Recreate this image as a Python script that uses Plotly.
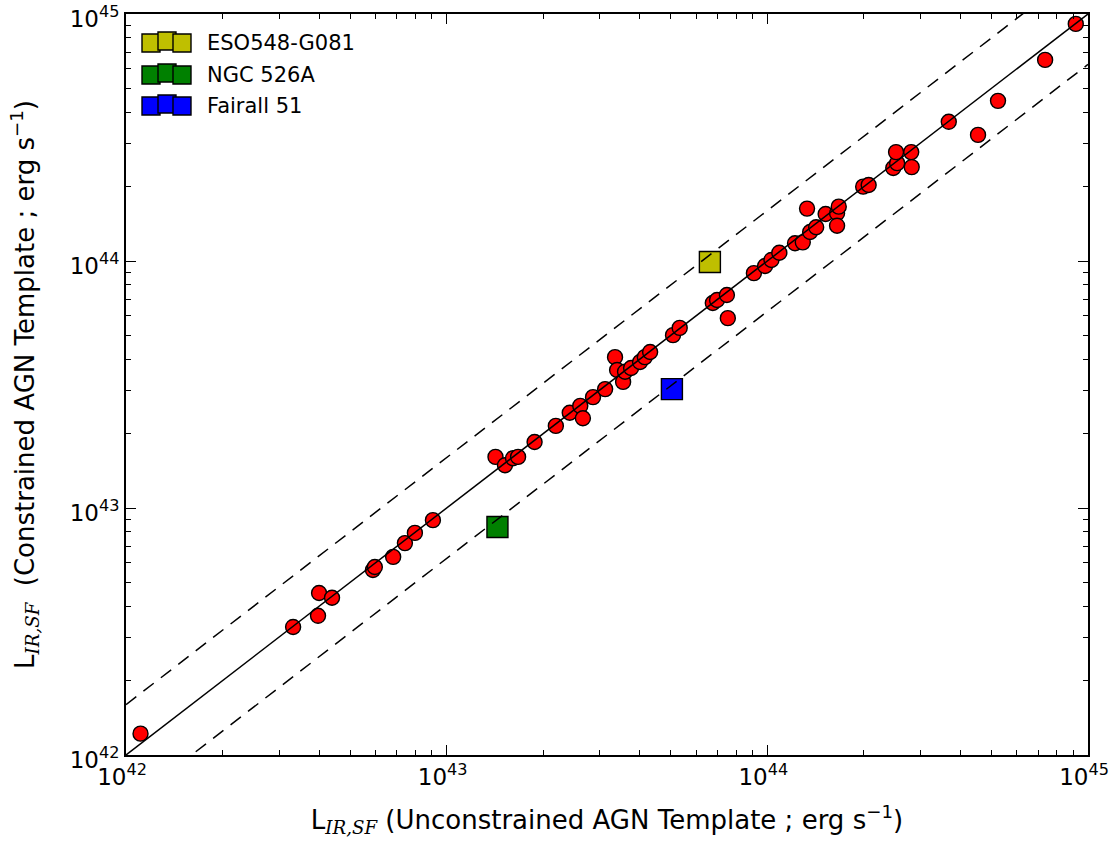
import plotly.graph_objects as go

# ---- data (erg s^-1) ----
unconstrained = [
    1.11e42, 3.32e42, 3.97e42, 4.00e42, 4.39e42, 5.89e42, 5.97e42, 6.81e42, 7.41e42, 7.96e42,
    9.06e42, 1.42e43, 1.52e43, 1.61e43, 1.67e43, 1.88e43, 2.19e43, 2.42e43, 2.61e43, 2.66e43,
    2.86e43, 3.12e43, 3.35e43, 3.40e43, 3.55e43, 3.60e43, 3.76e43, 4.01e43, 4.15e43, 4.31e43,
    5.08e43, 5.33e43, 6.76e43, 6.97e43, 7.48e43, 7.53e43, 9.08e43, 9.84e43, 1.03e44, 1.09e44,
    1.22e44, 1.29e44, 1.33e44, 1.36e44, 1.42e44, 1.52e44, 1.65e44, 1.67e44, 1.65e44, 1.99e44,
    2.07e44, 2.47e44, 2.54e44, 2.52e44, 2.81e44, 2.82e44, 3.68e44, 4.54e44, 5.24e44, 7.35e44,
    9.16e44,
]
constrained = [
    1.22e42, 3.30e42, 3.66e42, 4.53e42, 4.33e42, 5.61e42, 5.77e42, 6.34e42, 7.21e42, 7.93e42,
    8.93e42, 1.61e43, 1.49e43, 1.59e43, 1.61e43, 1.85e43, 2.15e43, 2.43e43, 2.59e43, 2.31e43,
    2.81e43, 3.03e43, 4.08e43, 3.62e43, 3.24e43, 3.56e43, 3.69e43, 3.90e43, 4.08e43, 4.28e43,
    5.01e43, 5.36e43, 6.76e43, 6.95e43, 7.28e43, 5.87e43, 8.93e43, 9.55e43, 1.01e44, 1.08e44,
    1.18e44, 1.19e44, 1.63e44, 1.31e44, 1.37e44, 1.55e44, 1.56e44, 1.66e44, 1.39e44, 2.00e44,
    2.03e44, 2.38e44, 2.49e44, 2.76e44, 2.76e44, 2.40e44, 3.66e44, 3.24e44, 4.45e44, 6.52e44,
    9.12e44,
]

special_names = ["ESO548-G081", "NGC 526A", "Fairall 51"]
special_x = [6.62e43, 1.44e43, 5.04e43]
special_y = [9.91e43, 8.38e42, 3.03e43]
special_colors = ["#BFBF00", "#008000", "#0000FF"]

line_x = [1e42, 1e45]
offset_factor = 1.6

major_ticks = [1e42, 1e43, 1e44, 1e45]
major_labels = ["10<sup>42</sup>", "10<sup>43</sup>", "10<sup>44</sup>", "10<sup>45</sup>"]
minor_ticks = [m * d for d in (1e42, 1e43, 1e44) for m in range(2, 10)]

FONT = "DejaVu Sans"
SUBFONT = "'DejaVu Serif'"

fig = go.Figure()

fig.add_trace(go.Scatter(
    x=unconstrained, y=constrained, mode="markers",
    marker=dict(symbol="circle", size=15, color="#FF0000",
                line=dict(color="black", width=1.4)),
    showlegend=False, hoverinfo="skip"))

for name, xv, yv, c in zip(special_names, special_x, special_y, special_colors):
    fig.add_trace(go.Scatter(
        x=[xv], y=[yv], mode="markers", name=name,
        marker=dict(symbol="square", size=21, color=c,
                    line=dict(color="black", width=1.4)),
        showlegend=False))

# 1:1 and offset lines (drawn above markers as in the reference)
fig.add_trace(go.Scatter(x=line_x, y=line_x, mode="lines",
                         line=dict(color="black", width=1.5),
                         showlegend=False, hoverinfo="skip"))
fig.add_trace(go.Scatter(x=line_x, y=[v * offset_factor for v in line_x], mode="lines",
                         line=dict(color="black", width=1.5, dash="13px,9px"),
                         showlegend=False, hoverinfo="skip"))
fig.add_trace(go.Scatter(x=line_x, y=[v / offset_factor for v in line_x], mode="lines",
                         line=dict(color="black", width=1.5, dash="13px,9px"),
                         showlegend=False, hoverinfo="skip"))

# invisible trace so the minor-tick overlay axes are drawn
fig.add_trace(go.Scatter(x=[line_x[0]], y=[line_x[0]], xaxis="x2", yaxis="y2",
                         mode="markers", marker=dict(opacity=0),
                         showlegend=False, hoverinfo="skip"))

# ---- geometry ----
W, H = 1111, 841
PL, PT, PR, PB = 126, 14, 1088, 755          # plot area in page pixels
L, T, R, B = PL, PT, W - PR, H - PB
pw, ph = PR - PL, PB - PT

def px(xp):
    return (xp - PL) / pw

def py(yp):
    return (PB - yp) / ph

# ---- custom legend (three overlapping squares per entry, like matplotlib) ----
row_y = [43, 75, 106]
sq_cx = [151, 167, 182]
sq_dy = [0, -2, 0]
half = 9
for name, c, ry in zip(special_names, special_colors, row_y):
    for cx, dy in zip(sq_cx, sq_dy):
        fig.add_shape(type="rect", xref="paper", yref="paper",
                      x0=px(cx - half), x1=px(cx + half),
                      y0=py(ry + dy + half), y1=py(ry + dy - half),
                      fillcolor=c, line=dict(color="black", width=1.4), layer="above")
    fig.add_annotation(xref="paper", yref="paper", x=px(205), y=py(ry),
                       xanchor="left", yanchor="middle", showarrow=False,
                       text=name, font=dict(family=FONT, size=21, color="black"))

axis_common = dict(
    type="log", range=[42, 45],
    tickvals=major_ticks, ticktext=major_labels,
    ticks="inside", ticklen=10, tickwidth=1, tickcolor="black",
    showline=True, linecolor="black", linewidth=2, mirror="ticks",
    showgrid=False, zeroline=False, ticklabeloverflow="allow",
    tickfont=dict(family=FONT, size=23, color="black"),
)
minor_common = dict(
    type="log", range=[42, 45],
    tickvals=minor_ticks, showticklabels=False,
    ticks="inside", ticklen=5, tickwidth=1, tickcolor="black",
    showline=False, mirror="ticks", showgrid=False, zeroline=False,
)

sub = "<sub><span style=\"font-family:" + SUBFONT + ";font-style:italic\">IR,SF</span></sub>"
fig.update_layout(
    xaxis=dict(title=dict(text="L" + sub + " (Unconstrained AGN Template ; erg s<sup>−1</sup>)",
                          font=dict(family=FONT, size=26, color="black"), standoff=22),
               ticklabelshift=-4, **axis_common),
    yaxis=dict(title=dict(text="L" + sub + "  (Constrained AGN Template ; erg s<sup>−1</sup>)",
                          font=dict(family=FONT, size=26, color="black"), standoff=28),
               ticklabelshift=5, **axis_common),
    xaxis2=dict(overlaying="x", anchor="y", side="bottom", **minor_common),
    yaxis2=dict(overlaying="y", anchor="x", side="left", **minor_common),
    width=W, height=H,
    margin=dict(l=L, r=R, t=T, b=B, autoexpand=False),
    paper_bgcolor="white", plot_bgcolor="white",
    font=dict(family=FONT, color="black"),
)

fig.write_html("out.html", config={"displayModeBar": False},
               post_script="document.body.style.margin='0';")
